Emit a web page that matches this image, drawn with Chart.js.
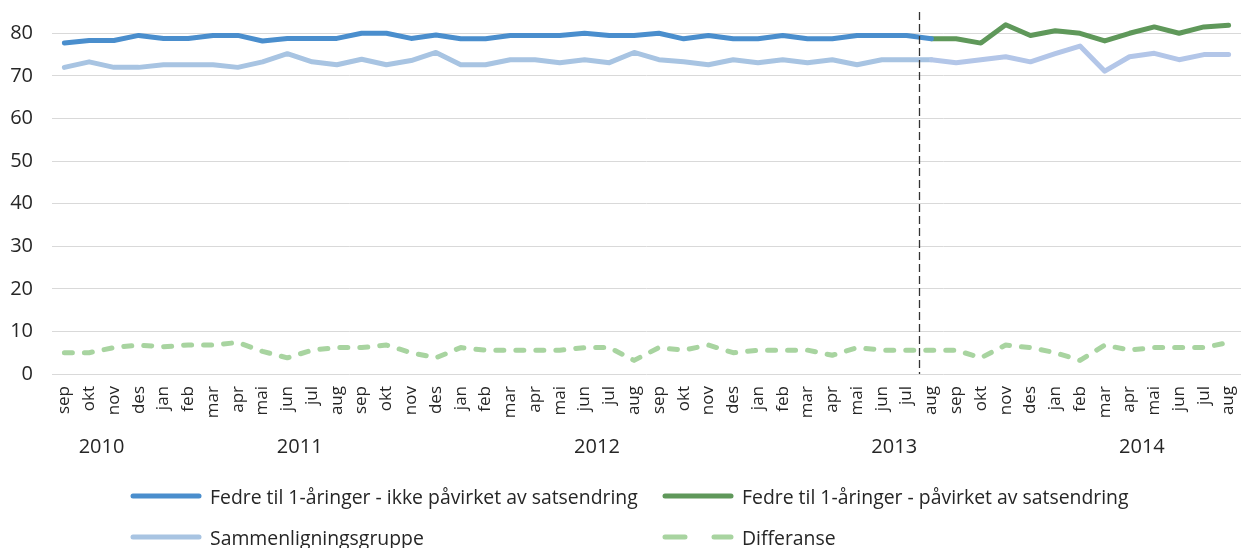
<!DOCTYPE html>
<html>
<head>
<meta charset="utf-8">
<script src="https://cdn.jsdelivr.net/npm/chart.js@4/dist/chart.umd.min.js"></script>
<style>
    body { margin: 0; background: #fff; }
    #wrap { position: relative; width: 1241px; height: 548px; }
    #legend {
        position: absolute; left: 130px; top: 485px;
        display: grid; grid-template-columns: 532px auto; row-gap: 19px;
        font-family: "Open Sans", sans-serif; font-size: 19.4px; color: #262626;
    }
    .item { display: flex; align-items: center; height: 22px; white-space: nowrap; }
    .item svg { margin-right: 8px; }
</style>
</head>
<body>
<div id="wrap">
    <canvas id="lineChart" width="1241" height="548"></canvas>
    <div id="legend"></div>
</div>
<script>
const months = ['sep', 'okt', 'nov', 'des',
    'jan', 'feb', 'mar', 'apr', 'mai', 'jun', 'jul', 'aug', 'sep', 'okt', 'nov', 'des',
    'jan', 'feb', 'mar', 'apr', 'mai', 'jun', 'jul', 'aug', 'sep', 'okt', 'nov', 'des',
    'jan', 'feb', 'mar', 'apr', 'mai', 'jun', 'jul', 'aug', 'sep', 'okt', 'nov', 'des',
    'jan', 'feb', 'mar', 'apr', 'mai', 'jun', 'jul', 'aug'];
const years = ['2010', '2011', '2012', '2013', '2014'];
const yearStart = [0, 4, 16, 28, 40];
const yTicks = [0, 10, 20, 30, 40, 50, 60, 70, 80];
const changeIndex = 35; // aug 2013

const ikkePavirket = [77.7, 78.3, 78.3, 79.5, 78.8, 78.8, 79.5, 79.5, 78.2, 78.8, 78.8, 78.8,
    80.0, 80.0, 78.8, 79.6, 78.7, 78.7, 79.5, 79.5, 79.5, 80.0, 79.5, 79.5,
    80.0, 78.7, 79.5, 78.7, 78.7, 79.5, 78.7, 78.7, 79.5, 79.5, 79.5, 78.7,
    null, null, null, null, null, null, null, null, null, null, null, null];
const pavirket = [null, null, null, null, null, null, null, null, null, null, null, null,
    null, null, null, null, null, null, null, null, null, null, null, null,
    null, null, null, null, null, null, null, null, null, null, null, 78.7,
    78.7, 77.7, 82.0, 79.5, 80.6, 80.0, 78.2, 80.0, 81.5, 80.0, 81.5, 81.9];
const sammenligning = [72.0, 73.3, 72.0, 72.0, 72.6, 72.6, 72.6, 72.0, 73.3, 75.2, 73.3, 72.6,
    73.9, 72.6, 73.6, 75.5, 72.6, 72.6, 73.8, 73.8, 73.1, 73.8, 73.1, 75.5,
    73.8, 73.3, 72.6, 73.8, 73.1, 73.8, 73.1, 73.8, 72.6, 73.8, 73.8, 73.8,
    73.1, 73.8, 74.5, 73.3, 75.2, 77.0, 71.1, 74.5, 75.3, 73.8, 75.0, 75.0];
const differanse = [5.0, 5.0, 6.2, 6.8, 6.4, 6.8, 6.8, 7.4, 5.3, 3.8, 5.6, 6.2,
    6.2, 6.8, 5.0, 3.8, 6.2, 5.6, 5.6, 5.6, 5.6, 6.2, 6.2, 3.2,
    6.2, 5.6, 6.8, 5.0, 5.6, 5.6, 5.6, 4.4, 6.2, 5.6, 5.6, 5.6,
    5.6, 3.8, 6.8, 6.2, 5.0, 3.2, 6.8, 5.6, 6.2, 6.2, 6.2, 7.4];

const font = '"Open Sans", sans-serif';
const textColor = '#262626';

const extras = {
    id: 'extras',
    afterDraw(chart) {
        const { ctx, chartArea, scales: { x } } = chart;
        ctx.save();
        // dashed divider between jul and aug 2013
        const xd = Math.round((x.getPixelForValue(changeIndex - 1) + x.getPixelForValue(changeIndex)) / 2) + 0.5;
        ctx.strokeStyle = '#333';
        ctx.lineWidth = 1.3;
        ctx.setLineDash([8, 4]);
        ctx.beginPath();
        ctx.moveTo(xd, chartArea.top);
        ctx.lineTo(xd, chartArea.bottom);
        ctx.stroke();
        // year labels
        ctx.setLineDash([]);
        ctx.fillStyle = textColor;
        ctx.font = '20px ' + font;
        ctx.textAlign = 'center';
        ctx.textBaseline = 'middle';
        years.forEach((y, i) => {
            const a = yearStart[i];
            const b = i < years.length - 1 ? yearStart[i + 1] - 1 : months.length - 1;
            const cx = (x.getPixelForValue(a) + x.getPixelForValue(b)) / 2;
            ctx.fillText(y, cx, chartArea.bottom + 73);
        });
        ctx.restore();
    }
};

const chart = new Chart(document.getElementById('lineChart').getContext('2d'), {
    type: 'line',
    data: {
        labels: months,
        datasets: [
            {
                label: 'Fedre til 1-åringer - ikke påvirket av satsendring',
                data: ikkePavirket,
                borderColor: '#4a8ecd',
                borderWidth: 5,
            },
            {
                label: 'Fedre til 1-åringer - påvirket av satsendring',
                data: pavirket,
                borderColor: '#5f985a',
                borderWidth: 5,
            },
            {
                label: 'Sammenligningsgruppe',
                data: sammenligning,
                borderColor: '#a8c4e2',
                borderWidth: 5,
                segment: {
                    borderColor: c => c.p0DataIndex >= changeIndex ? '#b3c6e8' : '#a8c4e2'
                }
            },
            {
                label: 'Differanse',
                data: differanse,
                borderColor: '#a8d4a0',
                borderWidth: 5,
                borderDash: [8, 12],
                dash: true
            }
        ]
    },
    options: {
        responsive: false,
        animation: false,
        elements: {
            point: { radius: 0 },
            line: { tension: 0, borderCapStyle: 'round', borderJoinStyle: 'round', fill: false }
        },
        layout: { padding: { left: 0, right: 0, top: 12, bottom: 128 } },
        plugins: { legend: { display: false }, tooltip: { enabled: false } },
        scales: {
            x: {
                offset: true,
                grid: { display: false, drawTicks: false },
                border: { display: false },
                afterFit: s => { s.paddingLeft = 0; s.paddingRight = 0; s.height = 46; },
                ticks: {
                    autoSkip: false, minRotation: 90, maxRotation: 90, padding: 12,
                    color: textColor, font: { family: font, size: 17 }
                }
            },
            y: {
                min: 0, max: 85,
                afterBuildTicks: s => { s.ticks = yTicks.map(v => ({ value: v })); },
                afterFit: s => { s.paddingTop = 0; s.paddingBottom = 0; s.width = 52; },
                grid: { color: '#d9d9d9', lineWidth: 1, drawTicks: false },
                border: { display: false },
                ticks: {
                    stepSize: 10, padding: 19,
                    color: textColor, font: { family: font, size: 20 }
                }
            }
        }
    },
    plugins: [extras]
});

// legend in two columns, built from the datasets
const legend = document.getElementById('legend');
chart.data.datasets.forEach(ds => {
    const dash = ds.dash ? 'stroke-dasharray="20 29"' : '';
    legend.insertAdjacentHTML('beforeend',
        `<div class="item"><svg width="72" height="10"><line x1="3" y1="5" x2="69" y2="5" stroke="${ds.borderColor}" stroke-width="5" stroke-linecap="round" ${dash}/></svg>${ds.label}</div>`);
});
</script>
</body>
</html>
